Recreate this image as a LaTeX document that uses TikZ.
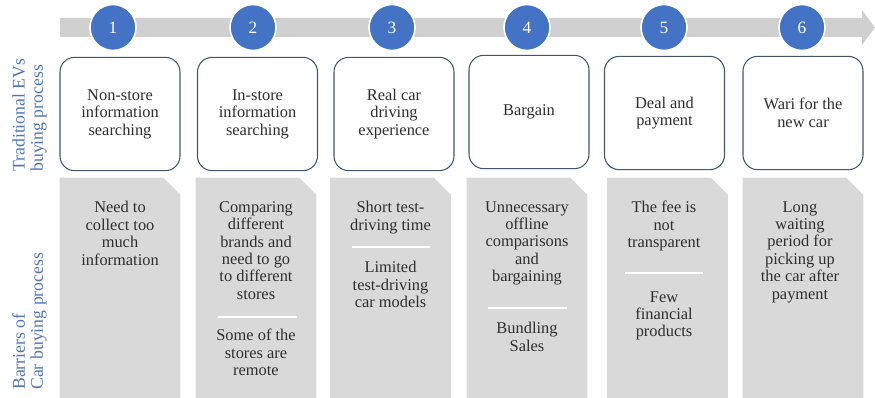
\documentclass[tikz,border=0pt]{standalone}
\usepackage{fontspec}
\setmainfont{Liberation Serif}
\definecolor{cblue}{HTML}{4472C4}
\definecolor{bandgray}{HTML}{D0D0D0}
\definecolor{gfill}{HTML}{D9D9D9}
\definecolor{bord}{HTML}{44546A}
\definecolor{txt}{HTML}{2E2E2E}
\definecolor{lbl}{HTML}{4F74C0}
\begin{document}
\begin{tikzpicture}[x=0.75pt,y=-0.75pt,
  stepnum/.style={circle, fill=cblue, draw=white, line width=1.2pt, minimum size=34.5pt, inner sep=0pt, text=white, font=\fontsize{13}{13}\selectfont},
  topbox/.style={draw=bord, line width=0.8pt, rounded corners=11pt, minimum width=90pt, minimum height=85pt, align=center, text=txt, font=\fontsize{12.3}{13.1}\selectfont, inner sep=0pt},
  barbox/.style={rectangle, draw=none, fill=none, minimum width=90pt, minimum height=166.5pt, inner sep=0pt},
  bartxt/.style={anchor=north, align=center, text=txt, font=\fontsize{12.3}{13.1}\selectfont, inner sep=0pt},
  sepline/.style={draw=white, line width=1pt},
  sidelbl/.style={rotate=90, anchor=west, align=left, text=lbl, font=\fontsize{13.3}{13.6}\selectfont, inner sep=0pt}
]
\useasboundingbox (0,0) rectangle (875,398);
\clip (0,0) rectangle (875,398);
% arrow band
\fill[bandgray] (60,18) -- (862,18) -- (862,10) -- (875,27.5) -- (862,45) -- (862,37) -- (60,37) -- cycle;
% circles
\node[stepnum] (c1) at (113,27.5) {1};
\node[stepnum] (c2) at (253,27.5) {2};
\node[stepnum] (c3) at (392,27.5) {3};
\node[stepnum] (c4) at (527,27.5) {4};
\node[stepnum] (c5) at (664,27.5) {5};
\node[stepnum] (c6) at (802,27.5) {6};
% top boxes
\node[topbox] (t1) at (120,114) {Non-store\\information\\searching};
\node[topbox] (t2) at (257.5,114) {In-store\\information\\searching};
\node[topbox] (t3) at (394,114) {Real car\\driving\\experience};
\node[topbox] (t4) at (529,112) {Bargain};
\node[topbox] (t5) at (664.5,113) {Deal and\\payment};
\node[topbox] (t6) at (803,113) {Wari for the\\new car};
% barrier boxes (snipped top-right corner)
\foreach \n/\x in {b1/120, b2/256, b3/390.5, b4/527, b5/667.5, b6/803}{
  \node[barbox] (\n) at (\x,289) {};
  \fill[gfill] (\n.north west) -- ([xshift=-12.75pt]\n.north east) -- ([yshift=-12.75pt]\n.north east) -- (\n.south east) -- (\n.south west) -- cycle;
}
% barrier texts
\node[bartxt] (x1) at (120,201) {Need to\\collect too\\much\\information};
\node[bartxt] (x2a) at (256,201) {Comparing\\different\\brands and\\need to go\\to different\\stores};
\node[bartxt] (x2b) at (256,329) {Some of the\\stores are\\remote};
\node[bartxt] (x3a) at (390.5,201) {Short test-\\driving time};
\node[bartxt] (x3b) at (390.5,261) {Limited\\test-driving\\car models};
\node[bartxt] (x4a) at (527,201) {Unnecessary\\offline\\comparisons\\and\\bargaining};
\node[bartxt] (x4b) at (527,322) {Bundling\\Sales};
\node[bartxt] (x5a) at (664,201) {The fee is\\not\\transparent};
\node[bartxt] (x5b) at (664,291) {Few\\financial\\products};
\node[bartxt] (x6) at (800,201) {Long\\waiting\\period for\\picking up\\the car after\\payment};
% separators
\draw[sepline] (218,317) -- (297,317);
\draw[sepline] (352,247) -- (430,247);
\draw[sepline] (488,308) -- (567,308);
\draw[sepline] (625,273) -- (703,273);
% side labels
\node[sidelbl] (l1) at (29.5,172) {Traditional EVs\\buying process};
\node[sidelbl] (l2) at (29.5,390) {Barriers of\\Car buying process};
\end{tikzpicture}
\end{document}
